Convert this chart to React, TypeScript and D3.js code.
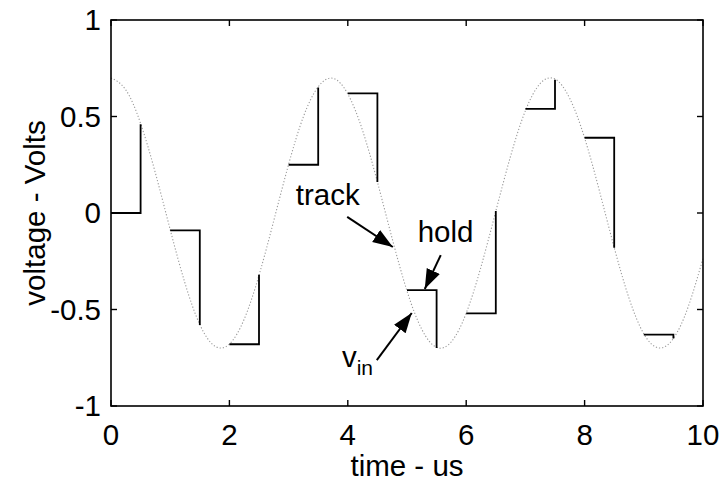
import React, { useEffect, useRef } from 'react';
import * as d3 from 'd3';

// input sine, every 0.25 us
const vinTime = [
  0, 0.25, 0.5, 0.75, 1, 1.25, 1.5, 1.75, 2, 2.25, 2.5, 2.75, 3, 3.25, 3.5, 3.75,
  4, 4.25, 4.5, 4.75, 5, 5.25, 5.5, 5.75, 6, 6.25, 6.5, 6.75, 7, 7.25, 7.5, 7.75,
  8, 8.25, 8.5, 8.75, 9, 9.25, 9.5, 9.75, 10,
];
const vinValue = [
  0.7, 0.638, 0.464, 0.207, -0.086, -0.364, -0.578, -0.689, -0.679, -0.55, -0.323, -0.039,
  0.252, 0.499, 0.654, 0.698, 0.617, 0.427, 0.161, -0.133, -0.404, -0.603, -0.696, -0.667,
  -0.519, -0.279, 0.009, 0.295, 0.53, 0.671, 0.694, 0.593, 0.389, 0.115, -0.179, -0.441,
  -0.626, -0.699, -0.65, -0.486, -0.235,
];

// hold phases of the track-and-hold output
const holdStart = [0, 1, 2, 3, 4, 5, 6, 7, 8, 9];
const holdEnd = [0.5, 1.5, 2.5, 3.5, 4.5, 5.5, 6.5, 7.5, 8.5, 9.5];
const holdLevel = [0, -0.09, -0.68, 0.25, 0.62, -0.4, -0.52, 0.54, 0.39, -0.63];
const trackLevel = [0.46, -0.58, -0.32, 0.65, 0.16, -0.7, 0.01, 0.69, -0.18, -0.65];

const xTicks = [0, 2, 4, 6, 8, 10];
const yTicks = [-1, -0.5, 0, 0.5, 1];

// annotations: label position and arrow tail -> tip, in data units
const notes = [
  { text: 'track', tx: 3.12, ty: 0.04, from: [3.99, -0.02], to: [4.76, -0.176] },
  { text: 'hold', tx: 5.18, ty: -0.15, from: [5.57, -0.218], to: [5.3, -0.394] },
  { text: 'v', sub: 'in', tx: 3.9, ty: -0.8, from: [4.49, -0.762], to: [5.08, -0.518] },
];

const App = () => {
  const svgRef = useRef<SVGSVGElement>(null);

  useEffect(() => {
    const width = 725;
    const height = 481;
    const margin = { top: 20, right: 22, bottom: 75, left: 111 };
    const font = '"Liberation Sans", Arial, Helvetica, sans-serif';
    const fs = 29.5;

    svgRef.current!.innerHTML = '';
    const svg = d3.select(svgRef.current)
      .attr('width', width)
      .attr('height', height);

    const x = d3.scaleLinear().domain([0, 10]).range([margin.left, width - margin.right]);
    const y = d3.scaleLinear().domain([-1, 1]).range([height - margin.bottom, margin.top]);

    svg.append('defs').append('marker')
      .attr('id', 'head')
      .attr('viewBox', '0 0 10 10')
      .attr('refX', 10).attr('refY', 5)
      .attr('markerWidth', 20).attr('markerHeight', 20)
      .attr('markerUnits', 'userSpaceOnUse')
      .attr('orient', 'auto')
      .append('path')
      .attr('d', 'M0,1.4L10,5L0,8.6Z')
      .attr('fill', '#000');

    // vin
    const line = d3.line<number>()
      .x((d, i) => x(vinTime[i]))
      .y(d => y(d))
      .curve(d3.curveNatural);
    svg.append('path')
      .attr('d', line(vinValue))
      .attr('fill', 'none')
      .attr('stroke', '#999')
      .attr('stroke-width', 1.1)
      .attr('stroke-dasharray', '1.2,2');

    // held output
    svg.append('g').selectAll('path')
      .data(holdStart)
      .enter().append('path')
      .attr('d', (d, i) => `M${x(d)},${y(holdLevel[i])}L${x(holdEnd[i])},${y(holdLevel[i])}L${x(holdEnd[i])},${y(trackLevel[i])}`)
      .attr('fill', 'none')
      .attr('stroke', '#000')
      .attr('stroke-width', 1.8);

    // box
    svg.append('rect')
      .attr('x', x(0)).attr('y', y(1))
      .attr('width', x(10) - x(0)).attr('height', y(-1) - y(1))
      .attr('fill', 'none').attr('stroke', '#000').attr('stroke-width', 1.6);

    // inward ticks on all sides
    const tl = 6;
    const ticks = svg.append('g').attr('stroke', '#000').attr('stroke-width', 1.4);
    xTicks.forEach(t => {
      ticks.append('line').attr('x1', x(t)).attr('x2', x(t)).attr('y1', y(-1)).attr('y2', y(-1) - tl);
      ticks.append('line').attr('x1', x(t)).attr('x2', x(t)).attr('y1', y(1)).attr('y2', y(1) + tl);
    });
    yTicks.forEach(t => {
      ticks.append('line').attr('x1', x(0)).attr('x2', x(0) + tl).attr('y1', y(t)).attr('y2', y(t));
      ticks.append('line').attr('x1', x(10)).attr('x2', x(10) - tl).attr('y1', y(t)).attr('y2', y(t));
    });

    svg.append('g').selectAll('text')
      .data(xTicks)
      .enter().append('text')
      .attr('x', d => x(d))
      .attr('y', y(-1) + 39)
      .attr('text-anchor', 'middle')
      .attr('font-family', font).attr('font-size', fs)
      .text(d => String(d));

    svg.append('g').selectAll('text')
      .data(yTicks)
      .enter().append('text')
      .attr('x', x(0) - 10)
      .attr('y', d => y(d) + 10)
      .attr('text-anchor', 'end')
      .attr('font-family', font).attr('font-size', fs)
      .text(d => String(d));

    svg.append('text')
      .attr('x', (x(0) + x(10)) / 2)
      .attr('y', 476)
      .attr('text-anchor', 'middle')
      .attr('font-family', font).attr('font-size', fs)
      .text('time - us');

    svg.append('text')
      .attr('transform', `translate(45,${(y(-1) + y(1)) / 2}) rotate(-90)`)
      .attr('text-anchor', 'middle')
      .attr('font-family', font).attr('font-size', fs)
      .text('voltage - Volts');

    // annotations
    notes.forEach(n => {
      const t = svg.append('text')
        .attr('x', x(n.tx)).attr('y', y(n.ty))
        .attr('font-family', font).attr('font-size', fs)
        .text(n.text);
      if (n.sub) {
        t.append('tspan').attr('dy', 8).attr('font-size', 21).text(n.sub);
      }
      svg.append('line')
        .attr('x1', x(n.from[0])).attr('y1', y(n.from[1]))
        .attr('x2', x(n.to[0])).attr('y2', y(n.to[1]))
        .attr('stroke', '#000').attr('stroke-width', 2)
        .attr('marker-end', 'url(#head)');
    });
  }, []);

  return (
    <svg ref={svgRef} style={{ position: 'absolute', left: 0, top: 0 }}></svg>
  );
};

export default App;
